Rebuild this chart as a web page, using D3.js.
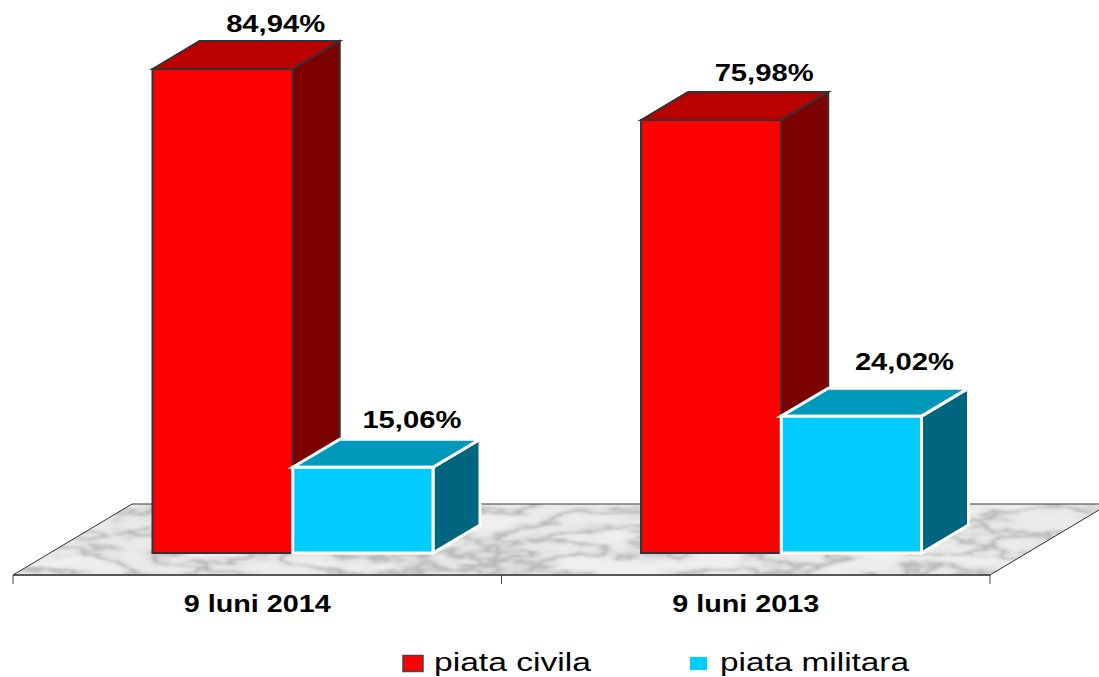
<!DOCTYPE html>
<html>
<head>
<meta charset="utf-8">
<title>piata civila / piata militara</title>
<script src="https://cdn.jsdelivr.net/npm/d3@7"></script>
<style>
  html, body { margin: 0; padding: 0; background: #fff; overflow: hidden; }
  svg { display: block; font-family: "Liberation Sans", Arial, sans-serif; }
</style>
</head>
<body>
<svg id="chart" width="1099" height="677"></svg>
<script>
// ── Data ──────────────────────────────────────────────────────────────────────
const categories = ["9 luni 2014", "9 luni 2013"];
const seriesNames = ["piata civila", "piata militara"];
const civilValues = [84.94, 75.98];
const militaryValues = [15.06, 24.02];

// ── Styles per series ─────────────────────────────────────────────────────────
const FRONT = ["#ff0000", "#00ccff"];
const TOP = ["#bb0000", "#0099bb"];
const SIDE = ["#7d0000", "#006680"];
const EDGE = ["#333333", "#ffffff"];
const EDGE_W = [2, 3];

// ── Scales ────────────────────────────────────────────────────────────────────
const DEPTH_X = 47, DEPTH_Y = 28;   // bar depth
const FLOOR_X = 119, FLOOR_Y = 71;  // floor depth
const BASE_Y = 553, AXIS_Y = 575;

const x = d3.scaleBand().domain(categories).range([13, 990]);
const inner = d3.scaleBand().domain(seriesNames).range([139.5, 420]);
const y = d3.scaleLinear().domain([0, 100]).range([BASE_Y, BASE_Y - 569.8]);

const fmt = d3.formatLocale({ decimal: ",", thousands: ".", grouping: [3], currency: ["", ""] }).format(".2f");
const poly = pts => pts.map(p => p.join(",")).join(" ");

const svg = d3.select("#chart");

// ── Marble floor ──────────────────────────────────────────────────────────────
const filter = svg.append("defs").append("filter")
  .attr("id", "marble").attr("x", 0).attr("y", 0).attr("width", 1).attr("height", 1)
  .attr("color-interpolation-filters", "sRGB");
filter.append("feTurbulence")
  .attr("type", "fractalNoise").attr("baseFrequency", "0.012 0.045")
  .attr("numOctaves", 4).attr("seed", 11).attr("result", "noise");
filter.append("feColorMatrix").attr("in", "noise").attr("type", "matrix")
  .attr("values", "1 0 0 0 0  1 0 0 0 0  1 0 0 0 0  0 0 0 0 1").attr("result", "gray");
const transfer = filter.append("feComponentTransfer").attr("in", "gray").attr("result", "veins");
["feFuncR", "feFuncG", "feFuncB"].forEach(fn =>
  transfer.append(fn).attr("type", "table")
    .attr("tableValues", "0.93 0.93 0.93 0.93 0.93 0.93 0.92 0.92 0.91 0.9 0.85 0.72 0.85 0.9 0.92 0.93 0.94 0.94 0.94 0.94 0.94 0.94 0.94 0.94"));
filter.append("feGaussianBlur").attr("in", "veins").attr("stdDeviation", 1.1).attr("result", "soft");
filter.append("feComposite").attr("in", "soft").attr("in2", "SourceAlpha").attr("operator", "in");

const floorPts = [[13, AXIS_Y], [13 + FLOOR_X, AXIS_Y - FLOOR_Y],
                  [990 + FLOOR_X, AXIS_Y - FLOOR_Y], [990, AXIS_Y]];
svg.append("polygon").attr("points", poly(floorPts))
  .attr("fill", "#000").attr("filter", "url(#marble)");
svg.append("polygon").attr("points", poly(floorPts))
  .attr("fill", "none").attr("stroke", "#333").attr("stroke-width", 1);

// ── Axis ──────────────────────────────────────────────────────────────────────
const axis = svg.append("g").attr("transform", `translate(0,${AXIS_Y})`);
axis.append("line").attr("x1", 13).attr("x2", 990).attr("stroke", "#444").attr("stroke-width", 1.5);
axis.selectAll("line.tick")
  .data([...categories.map(c => x(c)), 990])
  .join("line").attr("class", "tick")
  .attr("x1", d => d).attr("x2", d => d).attr("y1", 0).attr("y2", 9)
  .attr("stroke", "#444").attr("stroke-width", 1);
axis.selectAll("text")
  .data(categories)
  .join("text")
  .attr("x", d => x(d) + x.bandwidth() / 2).attr("y", 37)
  .attr("text-anchor", "middle").attr("font-weight", "bold").attr("font-size", 23)
  .attr("textLength", 147).attr("lengthAdjust", "spacingAndGlyphs")
  .attr("fill", "#000").text(d => d);

// ── Bars ──────────────────────────────────────────────────────────────────────
const values = [civilValues, militaryValues];
const bars = categories.flatMap((c, i) => seriesNames.map((s, k) => ({
  category: c, series: s, k, value: values[k][i],
})));

const bar = svg.selectAll("g.bar").data(bars).join("g").attr("class", "bar")
  .attr("stroke-linejoin", "miter");

bar.each(function (d) {
  const g = d3.select(this);
  const x0 = x(d.category) + inner(d.series), x1 = x0 + inner.bandwidth();
  const top = y(d.value);
  const face = (pts, fill) => g.append("polygon").attr("points", poly(pts)).attr("fill", fill)
    .attr("stroke", EDGE[d.k]).attr("stroke-width", EDGE_W[d.k]);

  face([[x1, top], [x1 + DEPTH_X, top - DEPTH_Y], [x1 + DEPTH_X, BASE_Y - DEPTH_Y], [x1, BASE_Y]], SIDE[d.k]);
  face([[x0, top], [x0 + DEPTH_X, top - DEPTH_Y], [x1 + DEPTH_X, top - DEPTH_Y], [x1, top]], TOP[d.k]);
  face([[x0, top], [x1, top], [x1, BASE_Y], [x0, BASE_Y]], FRONT[d.k]);
});

// ── Value labels ──────────────────────────────────────────────────────────────
// labels were hand placed in the original, so nudge each one: [dx, dy]
const labelNudge = { "84.94": [0, -37], "75.98": [0, -39], "15.06": [-4, -39], "24.02": [0, -46] };
svg.selectAll("text.value").data(bars).join("text").attr("class", "value")
  .attr("x", d => x(d.category) + inner(d.series) + inner.bandwidth() / 2 + 53 + labelNudge[d.value][0])
  .attr("y", d => y(d.value) + labelNudge[d.value][1])
  .attr("text-anchor", "middle").attr("font-weight", "bold").attr("font-size", 24)
  .attr("textLength", 99).attr("lengthAdjust", "spacingAndGlyphs")
  .attr("fill", "#000").text(d => fmt(d.value) + "%");

// ── Legend ────────────────────────────────────────────────────────────────────
const legendX = d3.scaleOrdinal().domain(seriesNames).range([403, 690]);
const legendW = d3.scaleOrdinal().domain(seriesNames).range([157, 189]);
const legend = svg.selectAll("g.legend").data(seriesNames).join("g").attr("class", "legend")
  .attr("transform", d => `translate(${legendX(d)},0)`);
legend.append("rect")
  .attr("x", 0).attr("y", (d, k) => k ? 657 : 655.5)
  .attr("width", (d, k) => k ? 17 : 20).attr("height", (d, k) => k ? 13 : 16)
  .attr("fill", (d, k) => FRONT[k])
  .attr("stroke", (d, k) => k ? "none" : "#444").attr("stroke-width", 1.5);
legend.append("text")
  .attr("x", (d, k) => k ? 30 : 31).attr("y", 671)
  .attr("font-size", 25).attr("fill", "#000")
  .attr("textLength", d => legendW(d)).attr("lengthAdjust", "spacingAndGlyphs")
  .text(d => d);
</script>
</body>
</html>
